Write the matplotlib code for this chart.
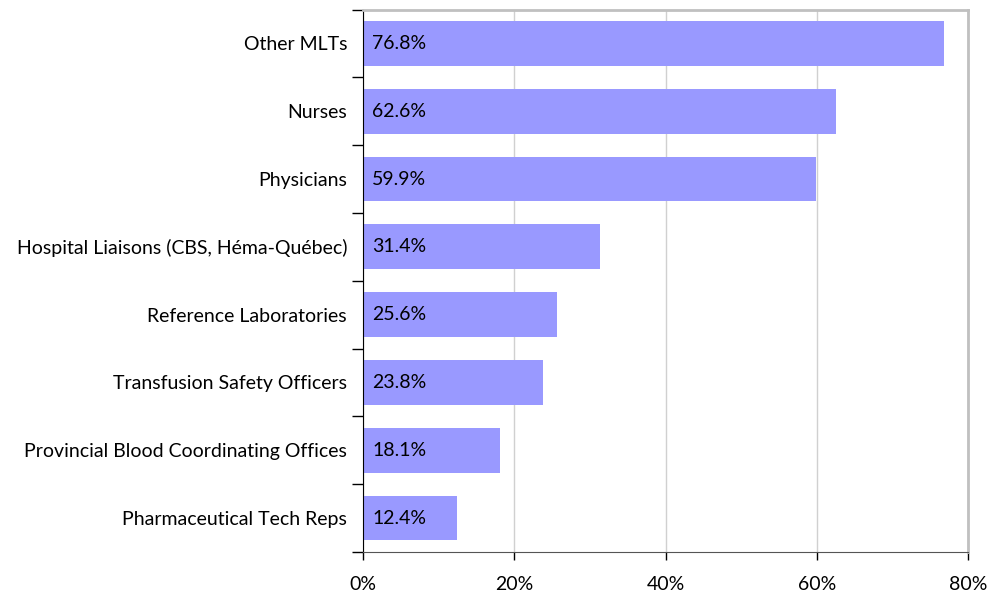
import matplotlib.pyplot as plt
import numpy as np

categories = ['Other MLTs', 'Nurses', 'Physicians', 'Hospital Liaisons (CBS, Héma-Québec)',
              'Reference Laboratories', 'Transfusion Safety Officers',
              'Provincial Blood Coordinating Offices', 'Pharmaceutical Tech Reps']
values = [76.8, 62.6, 59.9, 31.4, 25.6, 23.8, 18.1, 12.4]
xticks = [0, 20, 40, 60, 80]

plt.rcParams['font.family'] = ['Lato', 'DejaVu Sans']
fs = 14

fig = plt.figure(figsize=(9.96, 5.97), dpi=100)
ax = fig.add_axes([0.3645, 0.0754, 0.9719 - 0.3645, 0.984 - 0.0754])

y = np.arange(len(categories))
ax.barh(y, values, height=0.66, color='#9999FF', zorder=2)
for yi, v in zip(y, values):
    ax.text(1.2, yi, f'{v:.1f}%', va='center', ha='left', fontsize=fs, color='black', zorder=3)

ax.set_xlim(0, 80)
ax.set_ylim(len(categories) - 0.5, -0.5)
ax.set_xticks(xticks)
ax.set_xticklabels([f'{t}%' for t in xticks], fontsize=fs)
ax.set_yticks(y)
ax.set_yticklabels(categories, fontsize=fs)
ax.set_yticks(np.arange(len(categories) + 1) - 0.5, minor=True)
ax.tick_params(axis='y', which='major', length=0, pad=11.5)
ax.tick_params(axis='y', which='minor', length=8, width=1, direction='out')
ax.tick_params(axis='x', which='major', length=6, width=1, direction='out', pad=11)

ax.grid(axis='x', color='#D0D0D0', linewidth=1, zorder=0)
ax.spines['left'].set_color('black')
ax.spines['bottom'].set_color('#555555')
ax.spines['top'].set_color('#C0C0C0')
ax.spines['right'].set_color('#C0C0C0')
ax.spines['top'].set_linewidth(2)
ax.spines['right'].set_linewidth(2)

fig.savefig('out.png', dpi=100)
